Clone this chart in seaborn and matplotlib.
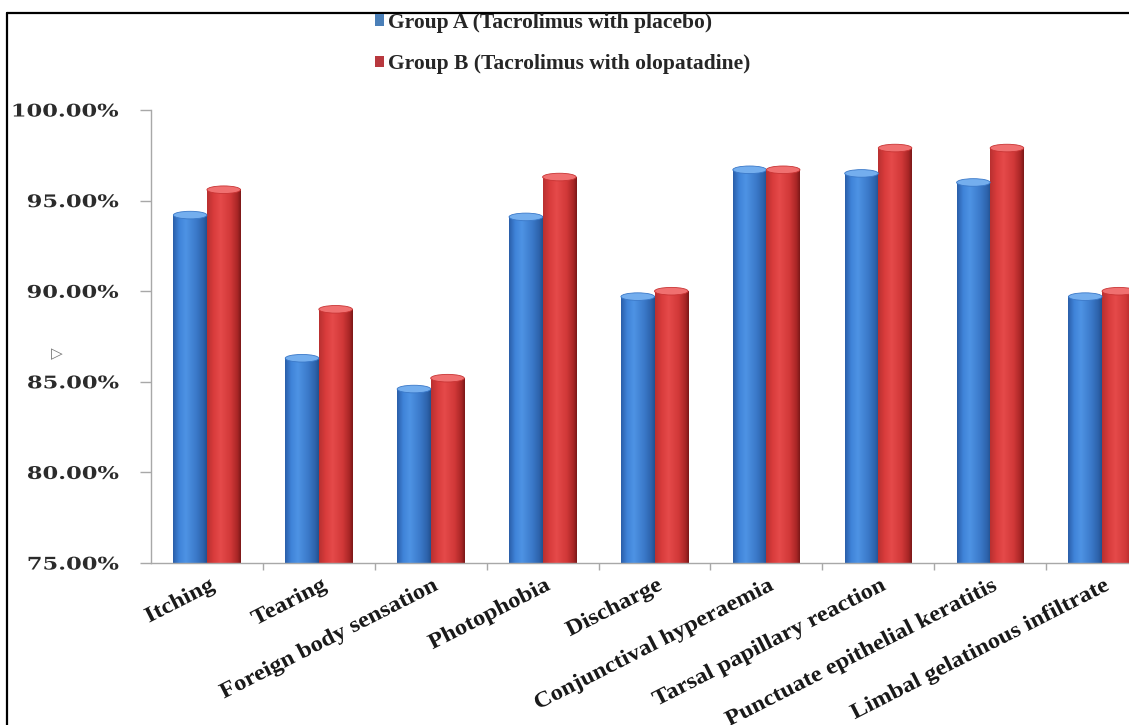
import numpy as np
import pandas as pd
import matplotlib
matplotlib.use("Agg")
import matplotlib.pyplot as plt
import seaborn as sns
from matplotlib.colors import LinearSegmentedColormap
from matplotlib.patches import Ellipse
from matplotlib.lines import Line2D
from matplotlib.patheffects import AbstractPathEffect
from matplotlib.transforms import Affine2D, ScaledTranslation
from matplotlib.ticker import FuncFormatter, FixedLocator

# ---- data -------------------------------------------------------------
symptoms = [
    "Itching", "Tearing", "Foreign body sensation", "Photophobia",
    "Discharge", "Conjunctival hyperaemia", "Tarsal papillary reaction",
    "Punctuate epithelial keratitis", "Limbal gelatinous infiltrate",
]
group_a = [94.2, 86.3, 84.6, 94.1, 89.7, 96.7, 96.5, 96.0, 89.7]
group_b = [95.6, 89.0, 85.2, 96.3, 90.0, 96.7, 97.9, 97.9, 90.0]
group_names = ["Group A (Tacrolimus with placebo)",
               "Group B (Tacrolimus with olopatadine)"]
y_ticks = [75, 80, 85, 90, 95, 100]

df = pd.DataFrame({
    "Symptom": symptoms * 2,
    "Value": group_a + group_b,
    "Group": [group_names[0]] * len(symptoms) + [group_names[1]] * len(symptoms),
})

BLUE = "#3b7bcc"
RED = "#d63a3a"


class HStretch(AbstractPathEffect):
    """Widen glyphs horizontally, keeping one end of the string fixed."""

    def __init__(self, sx, anchor="right"):
        super().__init__()
        self.sx = sx
        self.anchor = anchor

    def draw_path(self, renderer, gc, tpath, affine, rgbFace=None):
        ext = tpath.get_extents()
        xa = ext.x1 if self.anchor == "right" else ext.x0
        t = Affine2D().translate(-xa, 0).scale(self.sx, 1).translate(xa, 0) + affine
        renderer.draw_path(gc, tpath, t, rgbFace)


sns.set_theme(style="white")
plt.rcParams["font.family"] = ["Liberation Serif", "DejaVu Serif"]

W, H = 1129, 725
fig = plt.figure(figsize=(W / 100, H / 100), dpi=100)
ax = fig.add_axes([151 / W, 162 / H, 1007 / W, 453 / H])

sns.barplot(data=df, x="Symptom", y="Value", hue="Group",
            palette=[BLUE, RED], width=0.6, ax=ax, legend=False,
            linewidth=0, saturation=1)

n = len(symptoms)
ax.set_xlim(-0.5, n - 0.5)
ax.set_ylim(y_ticks[0], y_ticks[-1])
y_floor = ax.get_ylim()[0]

# cylinder shading
cmaps = {
    0: LinearSegmentedColormap.from_list("cylA", [
        (0.0, "#2a5ea8"), (0.18, "#3f83d8"), (0.38, "#4e93e4"),
        (0.7, "#3a78c8"), (0.9, "#2d62aa"), (1.0, "#22508e")]),
    1: LinearSegmentedColormap.from_list("cylB", [
        (0.0, "#b83030"), (0.2, "#d93c3c"), (0.4, "#e54a4a"),
        (0.7, "#d13838"), (0.9, "#a82626"), (1.0, "#7a1818")]),
}
cap_colors = {0: "#74aeee", 1: "#f07070"}
cap_edges = {0: "#3a78c8", 1: "#c83434"}
grad = np.linspace(0, 1, 256).reshape(1, -1)
cap_h = 0.42

bars = [p for p in ax.patches if p.get_height() > 0]
for i, p in enumerate(bars):
    g = i // n
    x0, w, h = p.get_x(), p.get_width(), p.get_height()
    ax.imshow(grad, cmap=cmaps[g], aspect="auto",
              extent=[x0, x0 + w, y_floor, h], zorder=2,
              interpolation="bilinear")
    ax.add_patch(Ellipse((x0 + w / 2, h), w, cap_h, facecolor=cap_colors[g],
                         edgecolor=cap_edges[g], linewidth=0.6, zorder=3))

ax.set_xlim(-0.5, n - 0.5)
ax.set_ylim(y_ticks[0], y_ticks[-1])
ax.set_xlabel("")
ax.set_ylabel("")

# axes styling
for s in ["top", "right"]:
    ax.spines[s].set_visible(False)
for s in ["left", "bottom"]:
    ax.spines[s].set_color("#a8a8a8")
    ax.spines[s].set_linewidth(1.0)

ax.yaxis.set_major_locator(FixedLocator(y_ticks))
ax.yaxis.set_major_formatter(FuncFormatter(lambda v, _: f"{v:.2f}%"))
ax.tick_params(axis="y", which="major", left=True, length=8, width=1,
               color="#a8a8a8", pad=15, labelsize=12.5, labelcolor="#2b2b2b")
for lab in ax.get_yticklabels():
    lab.set_family("DejaVu Serif")
    lab.set_fontweight("bold")
    lab.set_path_effects([HStretch(1.3, "right")])

ax.set_xticks(range(n))
ax.set_xticklabels(symptoms, rotation=27, ha="right", rotation_mode="anchor",
                   fontsize=16, fontweight="bold", color="#1a1a1a")
ax.tick_params(axis="x", which="major", bottom=False, length=0, pad=9)
ax.xaxis.set_minor_locator(FixedLocator(np.arange(0.5, n - 0.5, 1)))
ax.tick_params(axis="x", which="minor", bottom=True, length=5, width=1,
               color="#a8a8a8", direction="out")
offset = ScaledTranslation(2 / 100, 0, fig.dpi_scale_trans)
for lab in ax.get_xticklabels():
    lab.set_transform(lab.get_transform() + offset)
    lab.set_path_effects([HStretch(1.1, "right")])

# legend
handles = [plt.Rectangle((0, 0), 1, 1, facecolor=c, edgecolor="none")
           for c in ["#4a7fb8", "#b8383e"]]
fig.legend(handles, group_names, loc="upper left",
           bbox_to_anchor=(366 / W, 1 - 4 / H), frameon=False,
           prop={"family": "Liberation Serif", "weight": "bold", "size": 15.5},
           handlelength=0.42, handleheight=0.42, handletextpad=0.2,
           labelspacing=1.0, borderaxespad=0)

# frame lines and stray marker
fig.add_artist(Line2D([7 / W, 7 / W], [0, 1 - 13 / H], transform=fig.transFigure,
                      color="black", linewidth=1.6))
fig.add_artist(Line2D([7 / W, 1], [1 - 13 / H, 1 - 13 / H], transform=fig.transFigure,
                      color="black", linewidth=1.6))
fig.text(57 / W, 1 - 354 / H, "\u25b7", family="DejaVu Sans", fontsize=11,
         color="#777777", ha="center", va="center")

fig.savefig("out.png", dpi=100)
